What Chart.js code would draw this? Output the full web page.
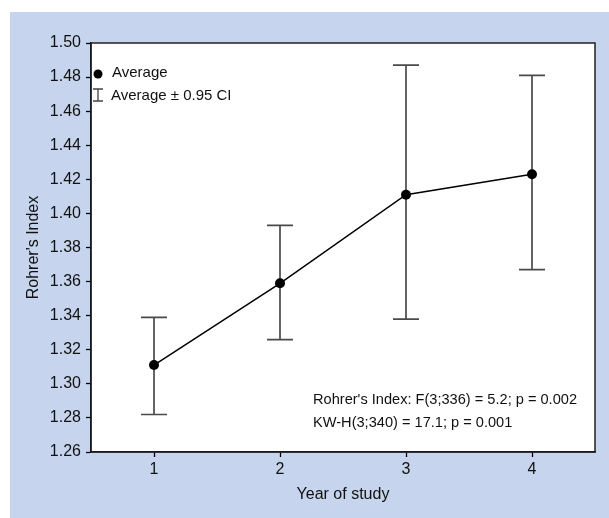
<!DOCTYPE html>
<html lang="en">
<head>
<meta charset="UTF-8">
<title>Rohrer's Index by year of study</title>
<style>
  html, body { margin: 0; padding: 0; background: #fff; }
</style>
</head>
<body>
<canvas id="myChart" width="609" height="518"></canvas>

<script src="https://cdn.jsdelivr.net/npm/chart.js"></script>
<script>
// values
const years = [1, 2, 3, 4];
const average = [1.311, 1.359, 1.411, 1.423];
const ciLow = [1.282, 1.326, 1.338, 1.367];
const ciHigh = [1.339, 1.393, 1.487, 1.481];
const yTicks = [1.26, 1.28, 1.30, 1.32, 1.34, 1.36, 1.38, 1.40, 1.42, 1.44, 1.46, 1.48, 1.50];
const statLines = [
    "Rohrer's Index: F(3;336) = 5.2; p = 0.002",
    "KW-H(3;340) = 17.1; p = 0.001"
];

const FONT = "'Liberation Sans', Arial, sans-serif";
const BLUE = '#c6d5ed';

const framePlugin = {
    id: 'frame',
    beforeDraw(chart) {
        const c = chart.ctx;
        const a = chart.chartArea;
        c.save();
        c.fillStyle = '#fff';
        c.fillRect(0, 0, chart.width, chart.height);
        c.fillStyle = BLUE;
        c.fillRect(10, 12, chart.width - 10, chart.height - 12);
        c.fillStyle = '#fff';
        c.fillRect(a.left, a.top, a.right - a.left, a.bottom - a.top);
        c.restore();
    },
    beforeDatasetsDraw(chart) {
        // error bars (average +- 0.95 CI)
        const c = chart.ctx;
        const xs = chart.scales.x;
        const ys = chart.scales.y;
        c.save();
        c.strokeStyle = '#4a4a4a';
        c.lineWidth = 1.7;
        years.forEach((yr, i) => {
            const x = xs.getPixelForValue(yr);
            const y1 = ys.getPixelForValue(ciLow[i]);
            const y2 = ys.getPixelForValue(ciHigh[i]);
            c.beginPath();
            c.moveTo(x, y1); c.lineTo(x, y2);
            c.moveTo(x - 13, y1); c.lineTo(x + 13, y1);
            c.moveTo(x - 13, y2); c.lineTo(x + 13, y2);
            c.stroke();
        });
        c.restore();
    },
    afterDraw(chart) {
        const c = chart.ctx;
        const a = chart.chartArea;
        c.save();
        // box round the plot
        c.strokeStyle = '#222';
        c.lineWidth = 1.5;
        c.strokeRect(a.left, a.top, a.right - a.left, a.bottom - a.top);

        // legend
        c.fillStyle = '#000';
        c.beginPath();
        c.arc(a.left + 7, a.top + 31, 4.5, 0, Math.PI * 2);
        c.fill();
        c.strokeStyle = '#444';
        c.lineWidth = 1.3;
        c.beginPath();
        c.moveTo(a.left + 7, a.top + 46); c.lineTo(a.left + 7, a.top + 58);
        c.moveTo(a.left + 2, a.top + 46); c.lineTo(a.left + 12, a.top + 46);
        c.moveTo(a.left + 2, a.top + 58); c.lineTo(a.left + 12, a.top + 58);
        c.stroke();
        c.font = '15px ' + FONT;
        c.textBaseline = 'middle';
        c.textAlign = 'left';
        c.fillStyle = '#111';
        c.fillText('Average', a.left + 21, a.top + 30);
        c.fillText('Average \u00b1 0.95 CI', a.left + 20, a.top + 53);

        // test statistics
        c.font = '14.6px ' + FONT;
        statLines.forEach((t, i) => {
            c.fillText(t, a.left + 222, a.bottom - 52 + i * 23);
        });
        c.restore();
    }
};

new Chart(document.getElementById('myChart'), {
    type: 'line',
    data: {
        datasets: [{
            label: 'Average',
            data: years.map((yr, i) => ({ x: yr, y: average[i] })),
            borderColor: '#000',
            borderWidth: 1.5,
            backgroundColor: '#000',
            pointRadius: 5,
            pointBackgroundColor: '#000',
            pointBorderWidth: 0,
            tension: 0,
            fill: false
        }]
    },
    options: {
        responsive: false,
        animation: false,
        events: [],
        layout: {
            padding: { top: 43, right: 14, left: 0, bottom: 0 }
        },
        plugins: {
            legend: { display: false },
            tooltip: { enabled: false }
        },
        scales: {
            x: {
                type: 'linear',
                min: 0.5,
                max: 4.5,
                afterBuildTicks: (scale) => { scale.ticks = years.map(v => ({ value: v })); },
                afterFit: (scale) => { scale.height = 66; },
                ticks: {
                    color: '#111',
                    padding: 3,
                    font: { family: FONT, size: 16 },
                    callback: (v) => String(v)
                },
                grid: { drawOnChartArea: false, tickLength: 5, color: '#000', tickWidth: 1.3 },
                border: { color: '#000', width: 1.5 },
                title: {
                    display: true,
                    text: 'Year of study',
                    color: '#111',
                    font: { family: FONT, size: 16 },
                    padding: { top: 0, bottom: 14 }
                }
            },
            y: {
                min: 1.26,
                max: 1.50,
                afterBuildTicks: (scale) => { scale.ticks = yTicks.map(v => ({ value: v })); },
                afterFit: (scale) => { scale.width = 91; },
                ticks: {
                    color: '#111',
                    padding: 5,
                    font: { family: FONT, size: 16 },
                    callback: (v) => v.toFixed(2)
                },
                grid: { drawOnChartArea: false, tickLength: 5, color: '#000', tickWidth: 1.3 },
                border: { color: '#000', width: 1.5 },
                title: {
                    display: true,
                    text: "Rohrer's Index",
                    color: '#111',
                    font: { family: FONT, size: 16 },
                    padding: { top: 24, bottom: 0 }
                }
            }
        }
    },
    plugins: [framePlugin]
});
</script>
</body>
</html>
